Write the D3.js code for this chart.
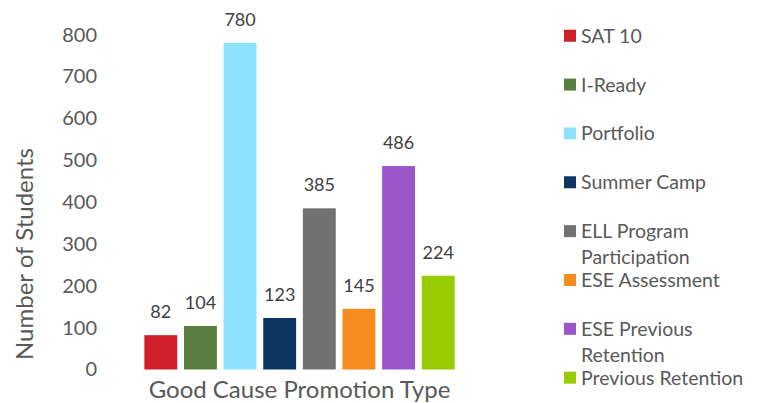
<!DOCTYPE html>
<html>
<head>
<meta charset="utf-8">
<script src="https://cdn.jsdelivr.net/npm/d3@7"></script>
<style>
  body { margin: 0; background: white; }
  text { font-family: Lato, "Open Sans", sans-serif; }
</style>
</head>
<body>
<script>
let categories = ["SAT 10", "I-Ready", "Portfolio", "Summer Camp", "ELL Program Participation", "ESE Assessment", "ESE Previous Retention", "Previous Retention"]
let values = [82, 104, 780, 123, 385, 145, 486, 224]
let colors = ["#CF1F28", "#5A7E3F", "#8EE2FD", "#0C355F", "#727272", "#F68C20", "#9B57C8", "#99CC00"]
let yTicks = [0, 100, 200, 300, 400, 500, 600, 700, 800]

let w = 758
let h = 403

let svg = d3.select("body").append("svg")
  .attr("width", w)
  .attr("height", h)

let x = d3.scaleBand()
  .domain(categories)
  .range([141, 458])
  .paddingInner(0.17)
  .paddingOuter(0.085)

let y = d3.scaleLinear()
  .domain([0, 800])
  .range([369.5, 34.6])

// y axis, labels only
let yAxis = d3.axisLeft(y).tickValues(yTicks).tickSize(0).tickPadding(0)
let yg = svg.append("g")
  .attr("transform", "translate(97,0)")
  .call(yAxis)
yg.select(".domain").remove()
yg.selectAll("text")
  .attr("fill", "#595959")
  .style("font-size", "20px")
  .style("font-family", "Lato, sans-serif")

svg.append("text")
  .text("Number of Students")
  .attr("transform", "translate(33,254) rotate(-90)")
  .attr("text-anchor", "middle")
  .attr("fill", "#595959")
  .style("font-size", "24px")

svg.append("text")
  .text("Good Cause Promotion Type")
  .attr("x", 299.5)
  .attr("y", 398)
  .attr("text-anchor", "middle")
  .attr("fill", "#595959")
  .style("font-size", "24px")

svg.selectAll(".bar")
  .data(categories)
  .enter()
  .append("rect")
  .attr("class", "bar")
  .attr("x", (d) => x(d))
  .attr("y", (d, i) => y(values[i]))
  .attr("width", x.bandwidth())
  .attr("height", (d, i) => y(0) - y(values[i]))
  .attr("fill", (d, i) => colors[i])

svg.selectAll(".val")
  .data(categories)
  .enter()
  .append("text")
  .attr("class", "val")
  .text((d, i) => values[i])
  .attr("x", (d) => x(d) + x.bandwidth() / 2)
  .attr("y", (d, i) => y(values[i]) - 17)
  .attr("text-anchor", "middle")
  .attr("fill", "#404040")
  .style("font-size", "18px")

// legend
let legend = svg.append("g").attr("id", "legend")
let legendY = d3.scalePoint()
  .domain(categories)
  .range([35.7, 377.7])

let items = legend.selectAll("g")
  .data(categories)
  .enter()
  .append("g")
  .attr("transform", (d) => "translate(564," + legendY(d) + ")")

items.append("rect")
  .attr("x", 0)
  .attr("y", -6)
  .attr("width", 12)
  .attr("height", 12)
  .attr("fill", (d, i) => colors[i])

items.each(function(d) {
  let g = d3.select(this)
  let t = g.append("text")
    .attr("x", 17)
    .attr("y", 7)
    .attr("fill", "#595959")
    .style("font-size", "19.5px")
  let words = d.split(" ")
  let line = []
  let ts = t.append("tspan").attr("x", 17).attr("dy", 0)
  words.forEach((word) => {
    line.push(word)
    ts.text(line.join(" "))
    if (ts.node().getComputedTextLength() > 172 && line.length > 1) {
      line.pop()
      ts.text(line.join(" "))
      line = [word]
      ts = t.append("tspan").attr("x", 17).attr("dy", 26).text(word)
    }
  })
})
</script>
</body>
</html>
